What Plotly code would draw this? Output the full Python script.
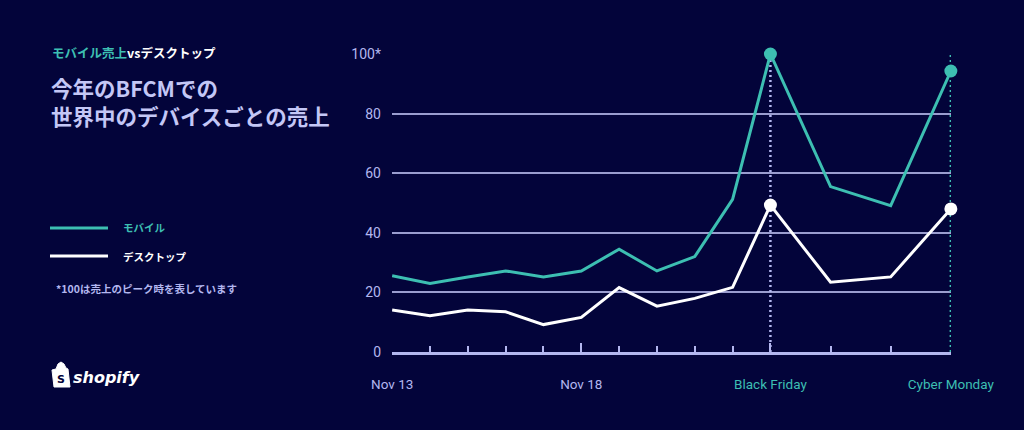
import numpy as np
import plotly.graph_objects as go

# ---- data ----
days = ["Nov 13", "Nov 14", "Nov 15", "Nov 16", "Nov 17", "Nov 18", "Nov 19",
        "Nov 20", "Nov 21", "Nov 22", "Black Friday", "Nov 24", "Nov 25", "Cyber Monday"]
mobile = [25.6, 23.0, 25.2, 27.2, 25.2, 27.2, 34.5, 27.2, 32.0, 51.2, 100, 55.5, 49.1, 94.3]
desktop = [14.1, 12.2, 14.1, 13.5, 9.2, 11.6, 21.6, 15.4, 18.0, 21.7, 49.3, 23.4, 25.2, 48.0]
labeled_days = ["Nov 13", "Nov 18", "Black Friday", "Cyber Monday"]
y_ticks = [0, 20, 40, 60, 80, 100]
y_ticktext = ["0", "20", "40", "60", "80", "100*"]

# ---- style ----
BG = "#03043a"
TEAL = "#3dbfb2"
LAV = "#b3b7ef"
GRID = "#9a9dcf"
WHITE = "#ffffff"
# weekend days after Black Friday are drawn wider in the reference
day_width = [1] * 10 + [1.59] * 3
xpos = np.concatenate([[0], np.cumsum(day_width)])
xmap = dict(zip(days, xpos))

L, R, T, B = 392, 951, 54, 352
W, H = 1024, 430
PAD = 0.004  # tiny range padding so the end ticks are drawn


def px(x):
    return (x - L) / (R - L)


def py(y):
    return (B - y) / (B - T)


fig = go.Figure()

bf = xmap["Black Friday"]
cm = xmap["Cyber Monday"]

# dotted guide lines at the peak days
for xv, col in ((bf, LAV), (cm, TEAL)):
    fig.add_trace(go.Scatter(x=[xv, xv], y=[y_ticks[0], y_ticks[-1]], mode="lines",
                             line=dict(color=col, width=2.5, dash="2px,3px"),
                             cliponaxis=False, hoverinfo="skip"))

fig.add_trace(go.Scatter(x=xpos, y=mobile, mode="lines", line=dict(color=TEAL, width=3),
                         cliponaxis=False, hoverinfo="skip"))
fig.add_trace(go.Scatter(x=xpos, y=desktop, mode="lines", line=dict(color=WHITE, width=3),
                         cliponaxis=False, hoverinfo="skip"))
peak_idx = [days.index("Black Friday"), days.index("Cyber Monday")]
fig.add_trace(go.Scatter(x=[xpos[i] for i in peak_idx], y=[mobile[i] for i in peak_idx],
                         mode="markers", marker=dict(color=TEAL, size=13),
                         cliponaxis=False, hoverinfo="skip"))
fig.add_trace(go.Scatter(x=[xpos[i] for i in peak_idx], y=[desktop[i] for i in peak_idx],
                         mode="markers", marker=dict(color=WHITE, size=13),
                         cliponaxis=False, hoverinfo="skip"))

ticktext = []
for d in labeled_days:
    if d in ("Black Friday", "Cyber Monday"):
        ticktext.append(f"<span style='color:{TEAL}'>{d}</span>")
    else:
        ticktext.append(d)

fig.update_xaxes(
    range=[xpos[0] - PAD, xpos[-1] + PAD],
    tickmode="array", tickvals=[xmap[d] for d in labeled_days], ticktext=ticktext,
    ticks="inside", ticklen=9, tickwidth=2, tickcolor=LAV,
    minor=dict(tickmode="array", tickvals=list(xpos), ticks="inside", ticklen=6,
               tickwidth=1.5, tickcolor=LAV),
    showline=True, linecolor=LAV, linewidth=3,
    showgrid=False, zeroline=False,
    tickfont=dict(family="Roboto, Noto Sans CJK JP", size=13.5, color=LAV),
    ticklabelstandoff=18,
)
fig.update_yaxes(
    range=[0, 100],
    tickmode="array", tickvals=y_ticks, ticktext=y_ticktext,
    showgrid=True, gridcolor=GRID, gridwidth=2,
    zeroline=False, showline=False, ticks="",
    tickfont=dict(family="Roboto, Noto Sans CJK JP", size=14, color=LAV),
    ticklabelstandoff=10,
)

JP = "Noto Sans CJK JP"
ann = [
    dict(x=px(50), y=py(53), text=f"<b><span style='color:{TEAL}'>モバイル売上</span>vsデスクトップ</b>",
         font=dict(family=JP, size=12.5, color=WHITE)),
    dict(x=px(49), y=py(87), text="<b>今年のBFCMでの</b>",
         font=dict(family=JP, size=21.5, color="#c4c7f6")),
    dict(x=px(49), y=py(115), text="<b>世界中のデバイスごとの売上</b>",
         font=dict(family=JP, size=21.5, color="#c4c7f6")),
    dict(x=px(121), y=py(228), text="<b>モバイル</b>",
         font=dict(family=JP, size=10.5, color=TEAL)),
    dict(x=px(121), y=py(256), text="<b>デスクトップ</b>",
         font=dict(family=JP, size=10.5, color=WHITE)),
    dict(x=px(54), y=py(288), text="<b>*100は売上のピーク時を表しています</b>",
         font=dict(family=JP, size=10.5, color=LAV)),
    dict(x=px(71), y=py(377), text="<b><i>shopify</i></b>",
         font=dict(family="DejaVu Sans, Roboto", size=16, color=WHITE)),
    dict(x=px(55), y=py(379), text="<b>S</b>",
         font=dict(family="DejaVu Sans", size=11, color=BG)),
]
for a in ann:
    a.update(xref="paper", yref="paper", xanchor="left", yanchor="middle",
             showarrow=False)
    fig.add_annotation(**a)

# legend swatches
fig.add_shape(type="line", xref="paper", yref="paper", x0=px(50), x1=px(108),
              y0=py(228), y1=py(228), line=dict(color=TEAL, width=3))
fig.add_shape(type="line", xref="paper", yref="paper", x0=px(50), x1=px(108),
              y0=py(256), y1=py(256), line=dict(color=WHITE, width=3))

# shopify bag icon
bag = [(52, 370), (56, 369), (58, 364), (61, 362), (64, 364), (66, 368), (68, 369),
       (70, 387), (54, 387)]
path = "M " + " L ".join(f"{px(x):.5f},{py(y):.5f}" for x, y in bag) + " Z"
fig.add_shape(type="path", xref="paper", yref="paper", path=path,
              fillcolor=WHITE, line=dict(color=WHITE, width=1), layer="below")

fig.update_layout(
    width=W, height=H,
    margin=dict(l=L, r=W - R, t=T, b=H - B),
    paper_bgcolor=BG, plot_bgcolor=BG,
    showlegend=False,
)

fig.write_html(
    "out.html",
    config={"displayModeBar": False},
    post_script="document.body.style.margin='0';document.body.style.background='" + BG + "';"
                "document.body.style.overflow='hidden';",
)
